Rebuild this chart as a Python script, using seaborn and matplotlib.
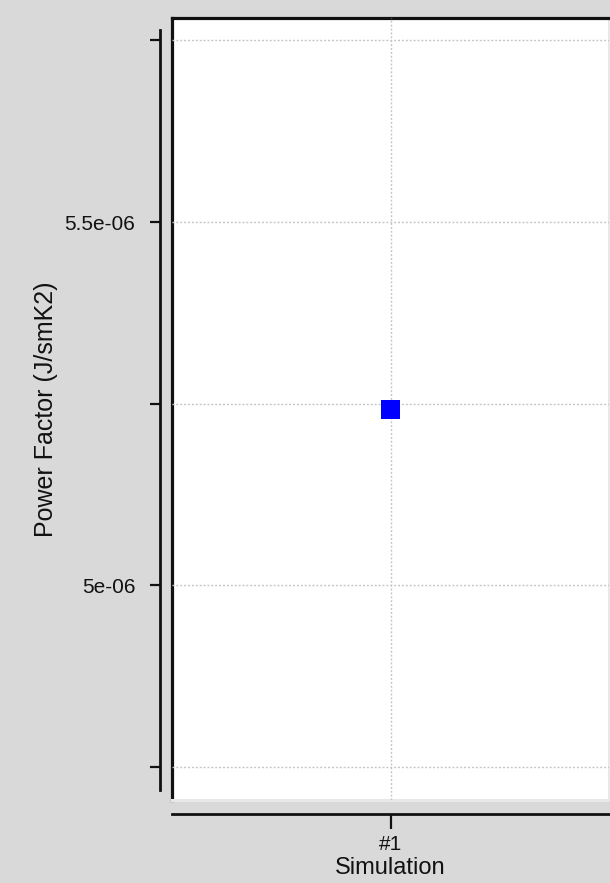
import matplotlib
matplotlib.use("Agg")
import matplotlib.pyplot as plt
import matplotlib.ticker as mticker
import pandas as pd
import seaborn as sns

# Data
simulations = ["#1"]
power_factor = [5.242e-06]

# Axis ticks
y_ticks = [4.75e-06, 5.0e-06, 5.25e-06, 5.5e-06, 5.75e-06]
y_tick_labels = ["", "5e-06", "", "5.5e-06", ""]

df = pd.DataFrame({"Simulation": simulations, "Power Factor": power_factor})

sns.set_theme(style="white")
plt.rcParams["font.family"] = ["Liberation Sans", "DejaVu Sans"]

BG = "#d9d9d9"
INK = "#111111"
W, H = 610, 883
fig = plt.figure(figsize=(W / 100, H / 100), dpi=100, facecolor=BG)

left, right, top, bottom = 172, 609, 18, 800
pos = [left / W, 1 - bottom / H, (right - left) / W, (bottom - top) / H]

# Plot-area frame (white panel with dark top/left edges, light bottom/right edges)
frame = fig.add_axes(pos, zorder=0)
frame.set_facecolor("white")
frame.set_xticks([])
frame.set_yticks([])
for side in ("top", "left"):
    frame.spines[side].set_color(INK)
    frame.spines[side].set_linewidth(2.3)
for side in ("bottom", "right"):
    frame.spines[side].set_color("#e8e8e8")
    frame.spines[side].set_linewidth(2.2)

# Data axes drawn on top of the frame
ax = fig.add_axes(pos, zorder=1)
ax.patch.set_alpha(0)

sns.scatterplot(data=df, x="Simulation", y="Power Factor", marker="s",
                s=175, color="#0000ff", edgecolor="none", ax=ax, zorder=3)

ax.set_xlim(-0.5, 0.5)
ax.set_ylim(4.7039e-06, 5.78099e-06)

ax.yaxis.set_major_locator(mticker.FixedLocator(y_ticks))
ax.yaxis.set_major_formatter(mticker.FixedFormatter(y_tick_labels))

ax.grid(True, color="#c4c4c4", linestyle=(0, (1.4, 1.4)), linewidth=1.0)
ax.set_axisbelow(True)

ax.spines["top"].set_visible(False)
ax.spines["right"].set_visible(False)
ax.spines["left"].set_position(("outward", 9))
ax.spines["left"].set_bounds(4.7176e-06, 5.7645e-06)
ax.spines["bottom"].set_position(("outward", 10))
for side in ("left", "bottom"):
    ax.spines[side].set_color(INK)
    ax.spines[side].set_linewidth(2.0)

ax.tick_params(axis="y", which="major", left=True, length=7.5, width=1.6,
               color=INK, labelsize=15, labelcolor=INK, pad=10)
ax.tick_params(axis="x", which="major", bottom=True, length=11, width=1.6,
               color=INK, labelsize=15, labelcolor=INK, pad=4)

ax.set_ylabel("Power Factor (J/smK2)", fontsize=18, color=INK)
ax.set_xlabel("Simulation", fontsize=17, color=INK)
ax.yaxis.set_label_coords((58 - left) / (right - left), 0.5)
ax.xaxis.set_label_coords(0.5, (bottom - 857) / (bottom - top))

fig.savefig("out.png", dpi=100, facecolor=BG)
